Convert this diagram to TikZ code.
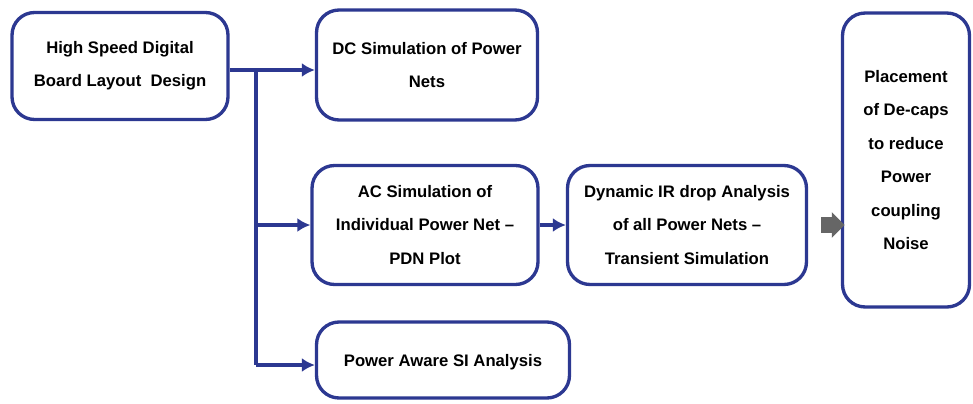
\documentclass[tikz,border=0pt]{standalone}
\usepackage{fontspec}
\setmainfont{Liberation Sans}
\usetikzlibrary{shapes.arrows, arrows.meta}
\definecolor{boxblue}{RGB}{44,56,145}
\begin{document}
\begin{tikzpicture}[x=0.02cm, y=-0.02cm]
\tikzstyle{stage} = [draw=boxblue, line width=1.9pt, rounded corners=0.45cm, fill=white, align=center, font=\bfseries\fontsize{9.5}{19}\selectfont, inner sep=0pt];
\tikzstyle{link} = [draw=boxblue, line width=1.9pt, -{Latex[length=2.6mm, width=2.8mm]}];
\useasboundingbox (0,0) rectangle (973,403);
\node[stage, minimum width=4.32cm, minimum height=2.14cm] (layout) at (120, 66) {High Speed Digital\\Board Layout\ \ Design};
\node[stage, minimum width=4.42cm, minimum height=2.2cm] (dc) at (427, 65) {DC Simulation of Power\\Nets};
\node[stage, minimum width=4.52cm, minimum height=2.38cm] (ac) at (425, 225) {AC Simulation of\\Individual Power Net --\\PDN Plot};
\node[stage, minimum width=4.78cm, minimum height=2.38cm] (ir) at (687, 225) {Dynamic IR drop Analysis\\of all Power Nets --\\Transient Simulation};
\node[stage, minimum width=5.06cm, minimum height=1.52cm, text depth=-0.1cm] (si) at (443, 360) {Power Aware SI Analysis};
\node[stage, minimum width=2.54cm, minimum height=5.88cm] (decap) at (906, 160) {Placement\\of De-caps\\to reduce\\Power\\coupling\\Noise};
\node[single arrow, fill=gray!80!black, minimum height=0.42cm, inner sep=0.15cm, single arrow head extend=0.1cm] (go) at (829, 225) {};
\coordinate (branch) at (256, 70);
\coordinate (bend) at (256, 365);
\draw[link] (layout.east |- branch) -- (dc.west |- branch);
\draw[boxblue, line width=1.9pt] (branch) -- (bend);
\draw[link] (branch |- ac) -- (ac.west);
\draw[link] (bend) -- (si.west |- bend);
\draw[link] (ac) -- (ir);
\end{tikzpicture}
\end{document}
